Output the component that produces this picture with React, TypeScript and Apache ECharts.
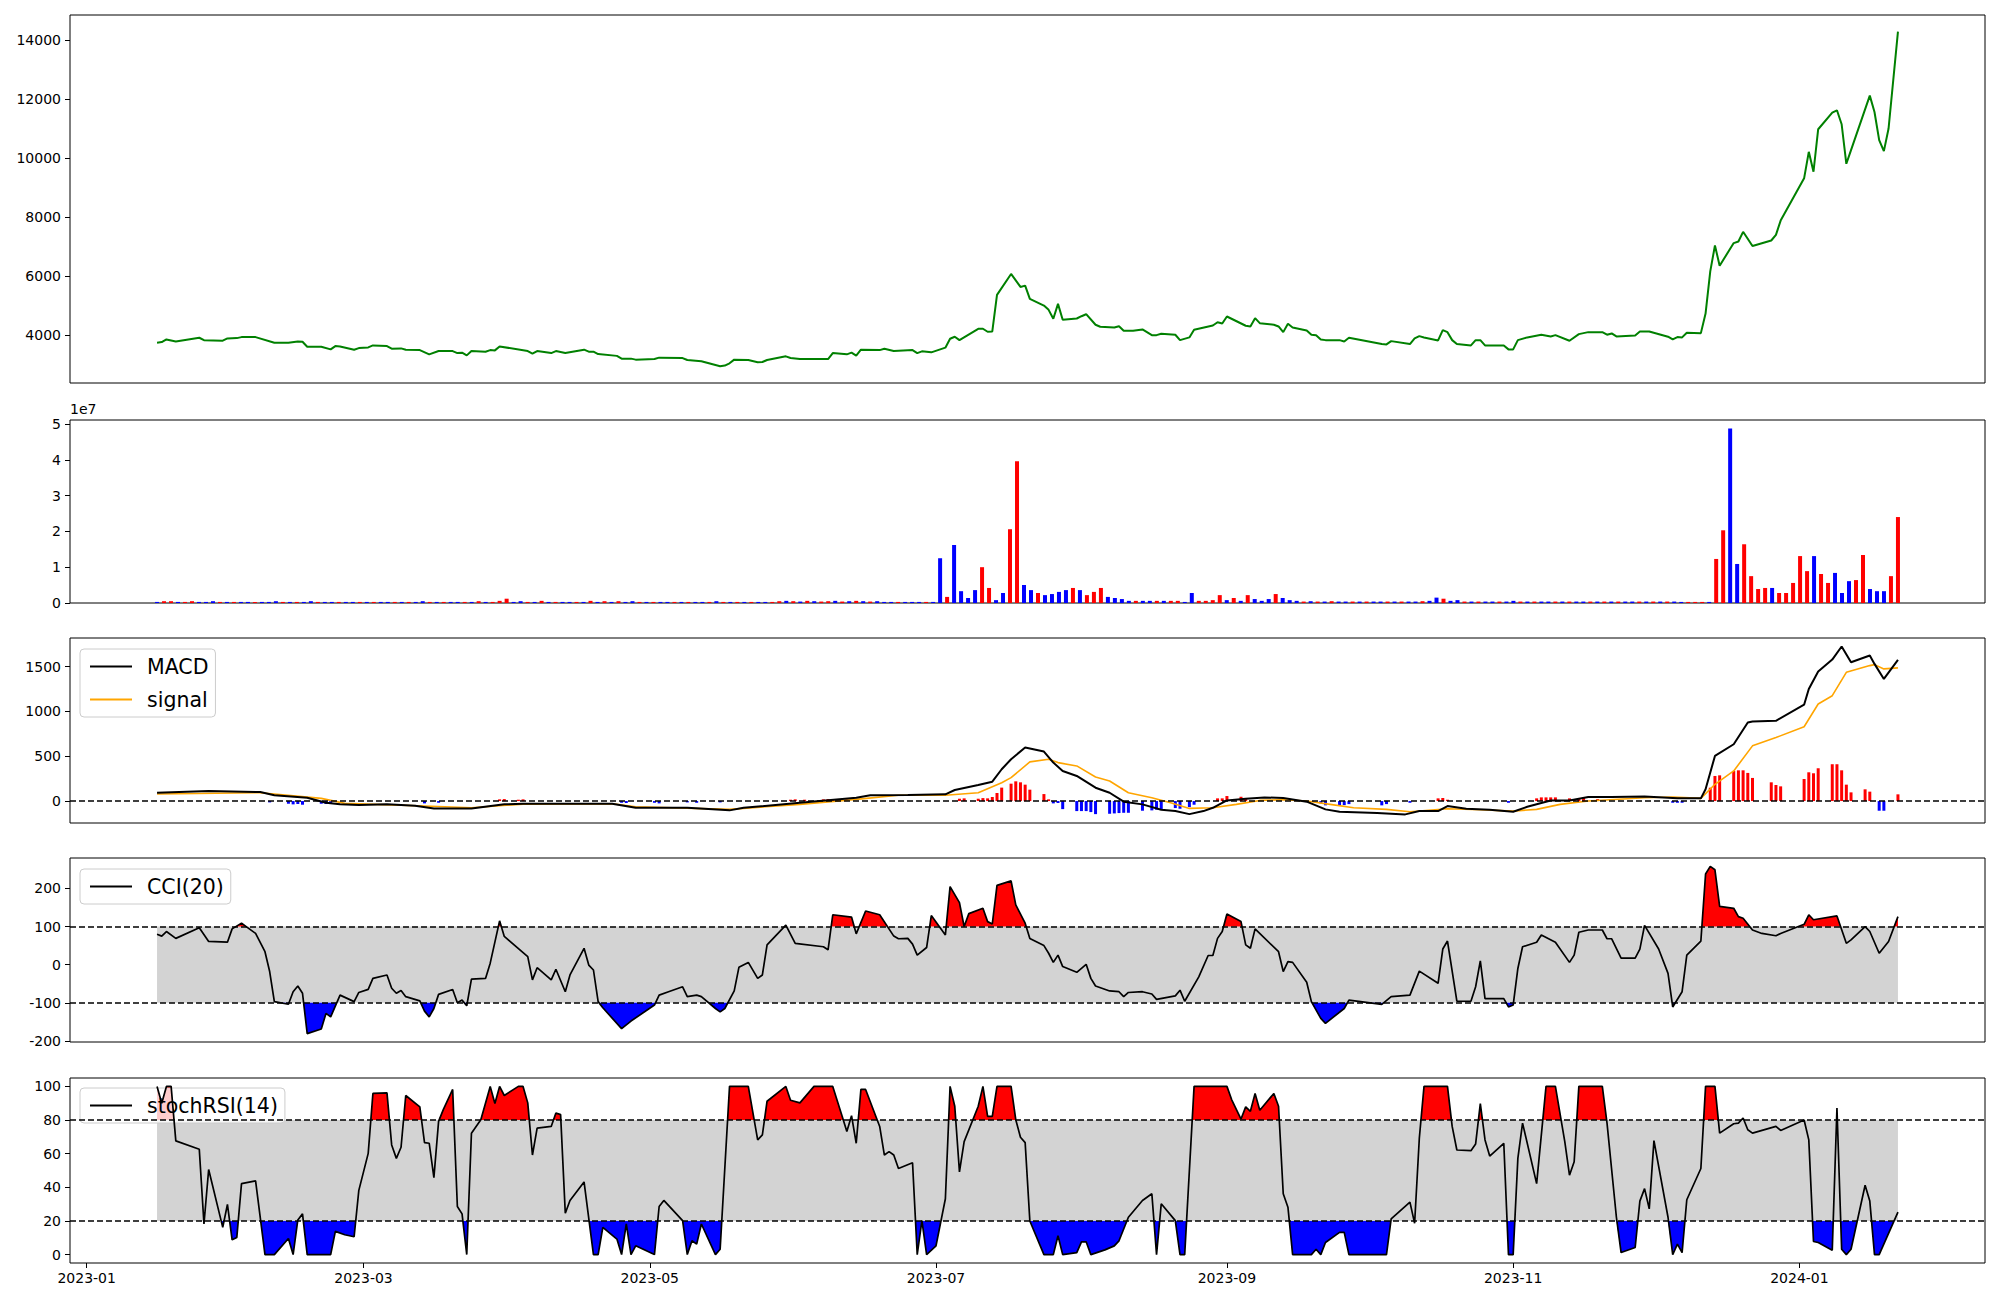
import React, { useEffect, useRef } from "react";
import * as echarts from "echarts";

// x positions of dated series: days counted from 2023-01-01
const monthTicks = [0, 59, 120, 181, 243, 304, 365];
const monthLabels = ["2023-01", "2023-03", "2023-05", "2023-07", "2023-09", "2023-11", "2024-01"];

const priceData: number[][] = [
  [15,3736],[16,3757],[17,3848],[19,3780],[24,3905],[25,3824],[29,3804],[30,3882],[32,3892],[33,3926],[36,3926],[40,3736],[43,3736],[45,3780],[46,3770],[47,3601],[50,3601],[52,3510],[53,3622],[54,3611],[57,3500],[58,3554],[60,3578],[61,3645],[64,3622],[65,3534],[67,3544],[68,3500],[71,3486],[73,3341],[75,3453],[78,3453],[79,3385],[80,3399],[81,3307],[82,3453],[85,3432],[86,3486],[87,3476],[88,3611],[94,3453],[95,3365],[96,3453],[99,3385],[100,3453],[102,3385],[106,3500],[107,3432],[108,3432],[109,3351],[113,3290],[114,3196],[116,3196],[117,3162],[121,3182],[122,3230],[127,3216],[128,3149],[131,3105],[135,2936],[136,2960],[137,3037],[138,3162],[141,3149],[143,3071],[144,3081],[145,3149],[149,3274],[150,3216],[152,3182],[158,3182],[159,3385],[162,3341],[163,3399],[164,3297],[165,3500],[169,3486],[170,3534],[172,3453],[176,3486],[177,3385],[178,3443],[180,3409],[183,3568],[184,3872],[185,3939],[186,3824],[190,4209],[191,4209],[192,4108],[193,4118],[194,5358],[197,6068],[199,5628],[200,5672],[201,5223],[204,4997],[205,4851],[206,4547],[207,5054],[208,4514],[211,4557],[212,4635],[213,4703],[215,4345],[216,4277],[219,4253],[220,4297],[221,4142],[223,4142],[225,4186],[227,3993],[228,3993],[229,4041],[232,4007],[233,3824],[235,3916],[236,4176],[240,4321],[241,4432],[242,4389],[243,4625],[247,4311],[248,4287],[249,4568],[250,4399],[253,4345],[254,4287],[255,4095],[256,4378],[257,4253],[260,4152],[261,4007],[262,3993],[263,3848],[264,3824],[267,3824],[268,3780],[269,3905],[276,3689],[277,3679],[278,3790],[282,3689],[283,3882],[284,3959],[285,3916],[288,3814],[289,4162],[290,4095],[291,3824],[292,3689],[295,3645],[296,3824],[297,3824],[298,3645],[302,3645],[303,3510],[304,3510],[305,3824],[307,3916],[310,4007],[312,3949],[313,3993],[316,3804],[318,4027],[320,4095],[323,4095],[324,4007],[325,4051],[326,3949],[330,3983],[331,4118],[333,4118],[337,3939],[338,3848],[339,3926],[340,3916],[341,4074],[344,4061],[345,4726],[346,6155],[347,7034],[348,6348],[351,7115],[352,7169],[353,7497],[355,7014],[359,7203],[360,7395],[361,7878],[366,9311],[367,10209],[368,9534],[369,10976],[372,11540],[373,11618],[374,11145],[375,9804],[376,10267],[380,12115],[381,11561],[382,10605],[383,10233],[384,11000],[386,14287]
];

// volume per trading session (units of 1e7), in session order
const volume: number[] = [
  0.03,0.05,0.05,0.03,0.03,0.05,0.03,0.03,0.05,0.03,
  0.03,0.03,0.03,0.03,0.03,0.03,0.03,0.05,0.03,0.03,
  0.03,0.03,0.05,0.03,0.03,0.03,0.03,0.03,0.03,0.03,
  0.03,0.03,0.03,0.03,0.03,0.03,0.03,0.03,0.05,0.03,
  0.03,0.03,0.03,0.03,0.03,0.03,0.05,0.03,0.03,0.06,
  0.12,0.03,0.05,0.03,0.03,0.06,0.03,0.03,0.03,0.03,
  0.03,0.03,0.06,0.03,0.05,0.03,0.05,0.03,0.05,0.03,
  0.03,0.03,0.03,0.03,0.03,0.03,0.03,0.03,0.03,0.03,
  0.05,0.03,0.03,0.03,0.03,0.03,0.03,0.03,0.03,0.05,
  0.06,0.05,0.04,0.06,0.05,0.04,0.05,0.06,0.04,0.05,
  0.06,0.05,0.04,0.05,0.03,0.03,0.03,0.03,0.03,0.03,
  0.03,0.03,1.25,0.17,1.62,0.33,0.14,0.36,1.00,0.42,
  0.08,0.28,2.06,3.96,0.50,0.36,0.28,0.22,0.25,0.31,
  0.36,0.42,0.36,0.22,0.31,0.42,0.17,0.14,0.11,0.06,
  0.06,0.06,0.06,0.06,0.06,0.06,0.06,0.03,0.28,0.06,
  0.06,0.08,0.22,0.08,0.14,0.06,0.22,0.11,0.06,0.11,
  0.25,0.14,0.08,0.06,0.04,0.05,0.04,0.04,0.05,0.04,
  0.04,0.04,0.04,0.04,0.04,0.04,0.04,0.04,0.04,0.04,
  0.04,0.05,0.06,0.15,0.12,0.06,0.08,0.04,0.04,0.04,
  0.04,0.04,0.04,0.04,0.06,0.04,0.04,0.04,0.04,0.04,
  0.04,0.04,0.04,0.04,0.04,0.04,0.04,0.04,0.04,0.04,
  0.04,0.04,0.04,0.04,0.04,0.04,0.04,0.04,0.03,0.03,
  0.03,0.03,0.03,1.23,2.03,4.87,1.09,1.64,0.75,0.39,
  0.42,0.42,0.28,0.28,0.56,1.31,0.89,1.31,0.81,0.56,
  0.84,0.28,0.61,0.64,1.34,0.39,0.33,0.33,0.75,2.40
];
// r = red bar, b = blue bar (same order as volume)
const volumeDir: string[] = (
  "brrbrrbbbr" + "brbbrbbbrb" + "rbbrbbrbbr" + "brbbrbrbbr" + "brbbrbrbrr" +
  "rbbrbrbrbb" + "rbrbrbrbbr" + "brbbrbrbbr" + "brbrbrbbrr" + "brbrbrrbrb" +
  "rbrbbbrbbb" + "rbbrbbbbrr" + "bbrrbbrbbb" + "brbrrrbbbb" + "rbbrbrrbbr" +
  "rrrbrbrbbb" + "rbbbrbrbrb" + "brbrbbrbrb" + "brbbrbbrbr" + "bbrbbrbrbb" +
  "rbrbbrbrbr" + "bbrbrbrbbr" + "rrbrrbbrrr" + "rbrrrrrbrr" + "bbbrrbbbrr"
).split("");

const macdData: number[][] = [
  [15,93],[26,112],[37,101],[40,64],[47,37],[51,-19],[54,-37],[58,-45],[64,-37],[70,-52],[74,-82],[82,-82],[89,-37],[93,-30],[112,-30],[117,-75],[128,-75],[137,-104],[140,-75],[152,-19],[164,37],[167,64],[175,67],[183,75],[185,123],[190,179],[193,216],[195,355],[197,467],[200,597],[204,552],[206,429],[208,336],[211,280],[215,149],[218,93],[221,-7],[225,-37],[229,-97],[232,-112],[235,-146],[238,-112],[240,-75],[243,7],[247,26],[251,41],[255,34],[260,-7],[264,-93],[267,-120],[275,-134],[281,-149],[284,-112],[288,-112],[290,-56],[294,-86],[299,-97],[304,-120],[307,-64],[312,7],[316,7],[320,45],[325,45],[332,52],[339,30],[344,30],[345,131],[347,504],[351,634],[354,876],[355,888],[360,896],[366,1075],[367,1251],[369,1445],[372,1579],[374,1725],[376,1549],[380,1624],[381,1531],[383,1363],[386,1575]
];
const signalData: number[][] = [
  [15,78],[37,93],[50,30],[55,-26],[72,-56],[82,-75],[93,-34],[112,-30],[117,-64],[137,-93],[152,-37],[164,19],[173,64],[183,64],[190,93],[195,205],[197,261],[201,437],[205,467],[207,429],[211,392],[215,269],[218,224],[222,93],[227,37],[231,-19],[235,-82],[240,-75],[245,-37],[250,7],[255,15],[260,0],[265,-37],[270,-75],[277,-93],[282,-120],[290,-86],[297,-97],[304,-112],[309,-93],[314,-37],[320,0],[332,37],[338,45],[344,30],[347,187],[351,336],[355,616],[360,709],[366,829],[369,1083],[372,1176],[375,1437],[380,1512],[381,1523],[383,1475],[386,1486]
];
const macdHist: number[][] = [
  [39,-15],[43,-30],[44,-37],[45,-33],[46,-41],[50,-30],[51,-33],[52,-26],[72,-26],[75,-19],[88,19],[89,22],[92,15],[93,19],[114,-19],[115,-22],[121,-19],[122,-26],[128,-15],[130,-19],[135,-15],[150,15],[151,19],[153,15],[157,19],[158,22],[159,19],[160,15],[162,19],[186,26],[187,30],[190,26],[191,33],[192,30],[193,45],[194,90],[195,150],[197,194],[198,220],[199,209],[200,183],[201,127],[204,78],[205,19],[206,-26],[207,-22],[208,-90],[211,-112],[212,-112],[213,-112],[214,-123],[215,-146],[218,-142],[219,-138],[220,-134],[221,-131],[222,-131],[225,-108],[227,-104],[228,-97],[229,-97],[232,-78],[233,-86],[235,-67],[236,-41],[241,30],[242,30],[243,56],[246,48],[247,30],[263,-26],[264,-48],[267,-48],[268,-45],[269,-34],[276,-48],[277,-34],[282,-19],[288,30],[289,34],[290,15],[303,-19],[309,30],[310,41],[311,41],[312,41],[313,41],[316,30],[317,22],[318,30],[319,34],[322,22],[338,-19],[339,-19],[340,-19],[346,149],[347,280],[348,287],[351,336],[352,343],[353,343],[354,314],[355,258],[359,209],[360,179],[361,164],[366,246],[367,321],[368,310],[369,366],[372,411],[373,411],[374,343],[375,183],[376,97],[379,131],[380,105],[382,-108],[383,-108],[386,75]
];
const cciData: number[][] = [
  [15,80],[16,75],[17,87],[19,69],[24,97],[26,61],[30,59],[31,94],[33,109],[34,100],[36,82],[38,34],[39,-18],[40,-97],[43,-104],[44,-71],[45,-56],[46,-75],[47,-181],[50,-169],[51,-128],[52,-137],[54,-80],[57,-97],[58,-73],[60,-65],[61,-36],[64,-27],[65,-62],[66,-75],[67,-68],[68,-84],[71,-95],[72,-122],[73,-137],[74,-115],[75,-78],[78,-65],[79,-100],[80,-93],[81,-108],[82,-38],[85,-36],[86,4],[88,115],[89,74],[94,21],[95,-40],[96,-8],[99,-40],[100,-12],[102,-71],[103,-27],[106,43],[107,-1],[108,-14],[109,-97],[110,-113],[114,-168],[116,-148],[121,-106],[122,-80],[124,-71],[127,-58],[128,-84],[130,-80],[131,-84],[134,-115],[135,-124],[136,-115],[138,-69],[139,-7],[141,6],[143,-36],[144,-27],[145,52],[149,104],[151,56],[157,47],[158,39],[159,131],[163,125],[164,81],[166,141],[169,131],[172,75],[173,68],[175,69],[176,54],[177,25],[179,45],[180,129],[183,78],[184,205],[186,163],[187,100],[188,134],[191,148],[192,113],[193,107],[194,208],[197,220],[198,157],[200,109],[201,69],[204,50],[205,30],[206,6],[207,25],[208,-5],[211,-20],[213,1],[214,-36],[215,-56],[218,-69],[220,-71],[221,-84],[222,-73],[225,-71],[227,-77],[228,-91],[232,-82],[233,-67],[234,-96],[237,-32],[239,24],[240,24],[241,69],[242,87],[243,133],[246,113],[247,52],[248,43],[249,94],[254,34],[255,-18],[256,8],[257,6],[260,-46],[261,-97],[263,-141],[264,-154],[268,-115],[269,-93],[276,-104],[278,-84],[282,-80],[284,-17],[288,-49],[289,41],[290,62],[292,-96],[295,-96],[296,-58],[297,10],[298,-89],[302,-89],[303,-111],[304,-106],[305,-10],[306,47],[309,59],[310,78],[313,59],[316,6],[317,25],[318,85],[320,91],[323,91],[324,68],[325,68],[327,17],[330,17],[331,41],[332,103],[335,41],[337,-23],[338,-111],[340,-71],[341,25],[344,62],[345,238],[346,258],[347,249],[348,153],[351,148],[352,126],[353,122],[355,91],[357,82],[360,76],[361,82],[366,106],[367,131],[368,118],[373,128],[375,56],[376,65],[379,100],[380,87],[382,30],[384,61],[386,126]
];
const stochData: number[][] = [
  [15,100],[16,90],[17,100],[18,100],[19,67.6],[24,62.6],[25,18.2],[26,50.6],[29,16.2],[30,29.8],[31,8.8],[32,10.2],[33,42.2],[36,43.8],[38,0],[40,0],[43,9.6],[44,0],[45,20.6],[46,24.2],[47,0],[52,0],[53,13.8],[55,11.8],[57,10.6],[58,38.2],[60,60.2],[61,95.8],[64,96.2],[65,65.2],[66,57.2],[67,63.8],[68,94.6],[71,87.8],[72,66.6],[73,66.2],[74,45.8],[75,79.2],[76,86.2],[78,98.2],[79,28.6],[80,24.2],[81,0],[82,72.2],[84,80.2],[86,100],[87,89.8],[88,100],[89,94.6],[92,100],[93,100],[94,90.2],[95,59.2],[96,75.2],[99,76.2],[100,84.2],[101,83.2],[102,24.6],[103,32.2],[106,43.2],[108,0],[109,0],[110,16.2],[113,9.2],[114,0],[115,18.2],[116,0],[117,5.2],[121,0],[122,28.6],[123,32.2],[127,20.2],[128,0],[129,8.2],[130,6.2],[131,18.2],[134,0],[135,3.2],[137,100],[141,100],[143,68.2],[144,71.2],[145,91.2],[149,100],[150,91.8],[152,90.2],[155,100],[157,100],[159,100],[161,82.2],[162,73.2],[163,82.6],[164,66.2],[165,98.2],[166,98.2],[169,76.2],[170,59.2],[171,61.2],[172,59.2],[173,51.2],[176,54.6],[177,0],[178,20.2],[179,0],[181,5.2],[183,33.2],[184,100],[185,88.2],[186,49.2],[187,67.2],[190,88.2],[191,100],[192,82.2],[193,82.2],[194,100],[197,100],[198,80.2],[199,69.8],[200,66.6],[201,20],[204,0],[206,0],[207,11.2],[208,0],[211,1.2],[212,7.6],[213,7.6],[214,0],[217,2.8],[219,5.2],[220,8.2],[222,22.2],[225,32.2],[227,36.2],[228,0],[229,30.2],[232,20.2],[233,0],[234,0],[236,100],[243,100],[244,92.2],[246,80.6],[247,87.8],[248,85.2],[249,95.8],[250,85.8],[253,95.8],[254,88.2],[255,36.2],[256,28.2],[257,0],[261,0],[262,3.2],[263,0],[264,7.2],[267,13.2],[268,13.2],[269,0],[277,0],[278,21.2],[282,31.2],[283,18.6],[284,69.2],[285,100],[290,100],[291,76.2],[292,62.2],[295,61.8],[296,65.8],[297,89.8],[298,68.2],[299,58.6],[302,66.2],[303,0],[304,0],[305,57.2],[306,78.2],[309,42.2],[311,100],[313,100],[315,67.2],[316,47.2],[317,55.2],[318,100],[323,100],[324,78.2],[326,22.2],[327,1.2],[330,4.2],[331,31.8],[332,39.2],[333,27.2],[334,67.8],[337,22.2],[338,0],[339,6.2],[340,1.2],[341,32.6],[344,51.2],[345,100],[347,100],[348,72.2],[351,77.8],[352,78.2],[353,81.2],[354,74.2],[355,72.2],[360,76.2],[361,73.8],[366,80],[367,68.2],[368,7.8],[369,7.2],[372,2.6],[373,87.2],[374,3.2],[375,0],[376,3.2],[379,41.2],[380,31.8],[381,0],[382,0],[386,25.2]
];

const priceTicks = [4000, 6000, 8000, 10000, 12000, 14000];
const volumeTicks = [0, 1, 2, 3, 4, 5];
const macdTicks = [0, 500, 1000, 1500];
const cciTicks = [-200, -100, 0, 100, 200];
const stochTicks = [0, 20, 40, 60, 80, 100];

const FONT = "DejaVu Sans";
const RED = "#ff0000";
const BLUE = "#0000ff";
const GRAY = "#d3d3d3";

// split a polyline into the part beyond a threshold, adding the crossing points
function beyond(points: number[][], thr: number, above: boolean): number[][] {
  const out: number[][] = [];
  for (let i = 0; i < points.length; i++) {
    const [x, y] = points[i];
    if (i > 0) {
      const [px, py] = points[i - 1];
      if ((py - thr) * (y - thr) < 0) {
        const t = (thr - py) / (y - py);
        out.push([px + t * (x - px), thr]);
      }
    }
    out.push([x, above ? Math.max(y, thr) : Math.min(y, thr)]);
  }
  return out;
}

function buildOption(): any {
  const panels = [
    { top: 15, height: 368 },
    { top: 420, height: 183 },
    { top: 638, height: 185 },
    { top: 858, height: 184 },
    { top: 1078, height: 185 },
  ];
  const first = priceData[0][0];
  const last = priceData[priceData.length - 1][0];
  const span = last - first;
  const xMin = first - 0.05 * span;
  const xMax = last + 0.05 * span;
  const nVol = volume.length;

  const labelStyle = { fontSize: 14, color: "#000", fontFamily: FONT };
  const grid = panels.map((p) => ({
    left: 70, right: 15, top: p.top, height: p.height,
    show: true, borderColor: "#000", borderWidth: 1, backgroundColor: "transparent",
  }));

  const xAxis = panels.map((_, i) => {
    const isVol = i === 1;
    const bottom = i === 4;
    return {
      type: "value", gridIndex: i, position: "bottom",
      min: isVol ? -0.05 * (nVol - 1) : xMin,
      max: isVol ? 1.05 * (nVol - 1) : xMax,
      axisLine: { show: false, onZero: false },
      splitLine: { show: false },
      axisTick: { show: bottom, length: 5, customValues: monthTicks, lineStyle: { color: "#000" } },
      axisLabel: {
        show: bottom, customValues: monthTicks, margin: 8, ...labelStyle,
        formatter: (v: number) => { const k = monthTicks.indexOf(v); return k >= 0 ? monthLabels[k] : ""; },
      },
    };
  });

  const yDefs = [
    { min: 2370, max: 14850, ticks: priceTicks },
    { min: 0, max: 5.11, ticks: volumeTicks },
    { min: -245, max: 1820, ticks: macdTicks },
    { min: -203, max: 280, ticks: cciTicks },
    { min: -5, max: 105, ticks: stochTicks },
  ];
  const yAxis = yDefs.map((d, i) => ({
    type: "value", gridIndex: i, position: "left", min: d.min, max: d.max,
    axisLine: { show: false, onZero: false },
    splitLine: { show: false },
    axisTick: { show: true, length: 5, customValues: d.ticks, lineStyle: { color: "#000" } },
    axisLabel: { customValues: d.ticks, margin: 9, ...labelStyle, formatter: (v: number) => String(v) },
  }));

  const dashed = (vals: number[]) => ({
    silent: true, symbol: ["none", "none"], label: { show: false },
    lineStyle: { type: [6, 3], color: "#000", width: 1.6 },
    data: vals.map((v) => ({ yAxis: v })),
  });

  const bandSeries = (axis: number, lo: number, hi: number, name: string, data: number[][]) => {
    const a = data[0][0];
    const b = data[data.length - 1][0];
    return {
      name, type: "line", xAxisIndex: axis, yAxisIndex: axis, z: 1, silent: true,
      symbol: "none", lineStyle: { opacity: 0 },
      areaStyle: { color: GRAY, opacity: 1, origin: lo },
      data: [[a, hi], [b, hi]],
    };
  };
  const fillSeries = (axis: number, thr: number, above: boolean, name: string, data: number[][]) => ({
    name, type: "line", xAxisIndex: axis, yAxisIndex: axis, z: 2, silent: true,
    symbol: "none", lineStyle: { opacity: 0 },
    areaStyle: { color: above ? RED : BLUE, opacity: 1, origin: thr },
    data: beyond(data, thr, above),
  });

  const series: any[] = [
    {
      name: "price", type: "line", xAxisIndex: 0, yAxisIndex: 0, symbol: "none",
      lineStyle: { color: "#008000", width: 2 }, data: priceData,
    },
    {
      name: "volume", type: "bar", xAxisIndex: 1, yAxisIndex: 1, barWidth: 4,
      data: volume.map((v, i) => ({ value: [i, v], itemStyle: { color: volumeDir[i] === "r" ? RED : BLUE } })),
    },
    {
      name: "hist", type: "bar", xAxisIndex: 2, yAxisIndex: 2, barWidth: 3, z: 2,
      data: macdHist.map(([d, v]) => ({ value: [d, v], itemStyle: { color: v >= 0 ? RED : BLUE } })),
    },
    {
      name: "MACD", type: "line", xAxisIndex: 2, yAxisIndex: 2, symbol: "none", z: 4,
      lineStyle: { color: "#000", width: 2 }, itemStyle: { color: "#000" }, data: macdData,
      markLine: dashed([0]),
    },
    {
      name: "signal", type: "line", xAxisIndex: 2, yAxisIndex: 2, symbol: "none", z: 3,
      lineStyle: { color: "#ffa500", width: 1.6 }, itemStyle: { color: "#ffa500" }, data: signalData,
    },
    bandSeries(3, -100, 100, "cciBand", cciData),
    fillSeries(3, 100, true, "cciUp", cciData),
    fillSeries(3, -100, false, "cciDown", cciData),
    {
      name: "CCI(20)", type: "line", xAxisIndex: 3, yAxisIndex: 3, symbol: "none", z: 4,
      lineStyle: { color: "#000", width: 1.7 }, itemStyle: { color: "#000" }, data: cciData,
      markLine: dashed([-100, 100]),
    },
    bandSeries(4, 20, 80, "stochBand", stochData),
    fillSeries(4, 80, true, "stochUp", stochData),
    fillSeries(4, 20, false, "stochDown", stochData),
    {
      name: "stochRSI(14)", type: "line", xAxisIndex: 4, yAxisIndex: 4, symbol: "none", z: 4,
      lineStyle: { color: "#000", width: 1.7 }, itemStyle: { color: "#000" }, data: stochData,
      markLine: dashed([20, 80]),
    },
  ];

  const legendBase = {
    orient: "vertical", icon: "rect", itemWidth: 42, itemHeight: 2, itemGap: 12,
    backgroundColor: "rgba(255,255,255,0.8)", borderColor: "#cccccc", borderWidth: 1, borderRadius: 4,
    padding: [7, 7, 7, 10], selectedMode: false,
    textStyle: { fontSize: 20.5, color: "#000", fontFamily: FONT, padding: [0, 0, 0, 10] },
  };

  return {
    animation: false,
    backgroundColor: "#fff",
    textStyle: { fontFamily: FONT },
    grid, xAxis, yAxis, series,
    legend: [
      { ...legendBase, data: ["MACD", "signal"], left: 80, top: 649 },
      { ...legendBase, data: ["CCI(20)"], left: 80, top: 869 },
      { ...legendBase, data: ["stochRSI(14)"], left: 80, top: 1088 },
    ],
    graphic: [
      { type: "text", left: 70, top: 402, style: { text: "1e7", fontSize: 14, fill: "#000", fontFamily: FONT } },
    ],
  };
}

export default function App() {
  const ref = useRef<HTMLDivElement>(null);
  useEffect(() => {
    if (!ref.current) return;
    const chart = echarts.init(ref.current, undefined, { renderer: "svg" });
    chart.setOption(buildOption());
    return () => chart.dispose();
  }, []);
  return (
    <div
      ref={ref}
      style={{ position: "absolute", left: 0, top: 0, width: 2000, height: 1300, background: "#fff" }}
    />
  );
}
